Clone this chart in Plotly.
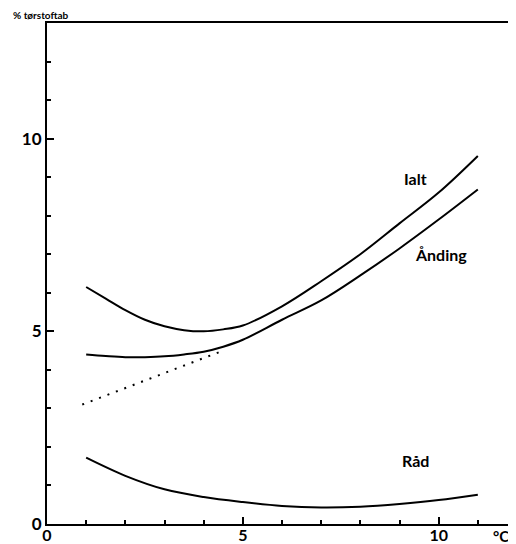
import plotly.graph_objects as go

# Data
x_ialt = [1, 1.5, 2, 2.5, 3, 3.5, 4, 4.5, 5, 6, 7, 8, 9, 10, 11]
y_ialt = [6.15, 5.85, 5.55, 5.3, 5.13, 5.03, 5.0, 5.05, 5.15, 5.65, 6.3, 7.0, 7.8, 8.6, 9.55]

x_aand = [1, 1.5, 2, 2.5, 3, 3.5, 4, 4.5, 5, 6, 7, 8, 9, 10, 11]
y_aand = [4.4, 4.36, 4.33, 4.33, 4.35, 4.4, 4.47, 4.6, 4.78, 5.3, 5.8, 6.45, 7.15, 7.9, 8.68]

x_raad = [1, 2, 3, 4, 5, 6, 7, 8, 9, 10, 11]
y_raad = [1.72, 1.25, 0.9, 0.7, 0.57, 0.47, 0.43, 0.45, 0.52, 0.62, 0.76]

x_dot = [0.9, 4.5]
y_dot = [3.1, 4.5]

x_ticks = [0, 5, 10]
y_ticks = [0, 5, 10]

labels = ["Ialt", "Ånding", "Råd"]
label_x = [9.4, 10.05, 9.4]
label_y = [8.97, 7.0, 1.65]

fig = go.Figure()
line = dict(color="black", width=2, shape="spline", smoothing=1.0)
fig.add_trace(go.Scatter(x=x_ialt, y=y_ialt, mode="lines", line=line))
fig.add_trace(go.Scatter(x=x_aand, y=y_aand, mode="lines", line=line))
fig.add_trace(go.Scatter(x=x_raad, y=y_raad, mode="lines", line=line))
fig.add_trace(go.Scatter(x=x_dot, y=y_dot, mode="lines",
                         line=dict(color="black", width=2, dash="2px,7px")))

for t, lx, ly in zip(labels, label_x, label_y):
    fig.add_annotation(x=lx, y=ly, text=t, showarrow=False,
                       font=dict(family="Lato", size=16, color="black", weight="bold"))

fig.add_annotation(x=11.6, y=0, xref="x", yref="paper", yanchor="top", yshift=-1,
                   text="°C", showarrow=False,
                   font=dict(family="Lato", size=15, color="black", weight="bold"))
fig.add_annotation(x=0, y=1, xref="paper", yref="paper", xanchor="left", yanchor="bottom",
                   xshift=-36, yshift=0, text="% tørstoftab", showarrow=False,
                   font=dict(family="Lato", size=10, color="black", weight="bold"))

axis_common = dict(showgrid=False, zeroline=False, showline=True, linecolor="black",
                   linewidth=2, mirror=True, ticks="inside", tickcolor="black",
                   ticklen=7, tickwidth=2,
                   tickfont=dict(family="Lato", size=17, color="black", weight="bold"),
                   minor=dict(dtick=1, ticks="inside", ticklen=4, tickcolor="black", tickwidth=1.5))

fig.update_xaxes(range=[0, 12], tickvals=x_ticks, ticktext=[str(v) for v in x_ticks],
                 ticklabelstandoff=-4, **axis_common)
fig.update_yaxes(range=[0, 13], tickvals=y_ticks, ticktext=[str(v) for v in y_ticks],
                 **axis_common)
fig.update_xaxes(tickfont=dict(size=16))

fig.update_layout(width=516, height=544, showlegend=False,
                  margin=dict(l=39, r=5, t=15, b=28),
                  plot_bgcolor="white", paper_bgcolor="white")

fig.write_html("out.html")
